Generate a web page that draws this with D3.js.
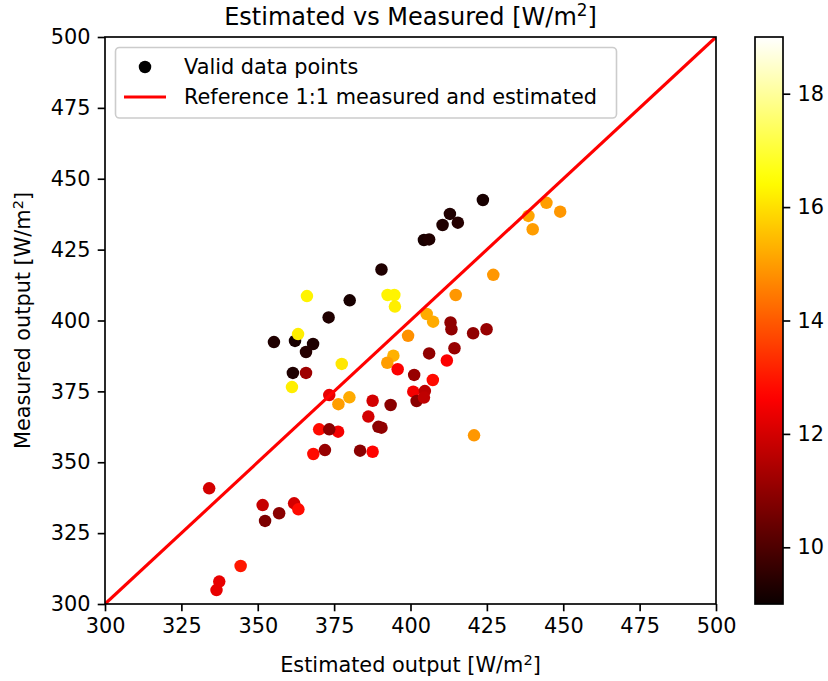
<!DOCTYPE html>
<html>
<head>
<meta charset="utf-8">
<script src="https://cdn.jsdelivr.net/npm/d3@7"></script>
<style>
body{margin:0;background:#fff;}
svg text{font-family:"DejaVu Sans",sans-serif;fill:#000;}
</style>
</head>
<body>
<svg id="chart" width="828" height="681"></svg>
<script>
//data: estimated, measured, colour value
var estimated=[355.3,362.2,368.1,365.8,361.5,423.7,412.9,410.5,415.5,404.4,406.1,390.5,380.1,373.2,
    366.1,363.2,361.2,392.5,394.7,394.9,377.5,
    427.1,414.8,405.3,407.4,399.2,394.4,392.4,380.0,376.4,420.8,444.5,449.0,438.6,440.0,
    411.9,395.8,407.3,400.9,373.4,387.6,386.2,370.1,376.3,368.2,387.6,334.1,351.6,361.9,363.3,344.4,337.4,336.5,
    365.8,413.1,413.4,420.5,424.9,406.1,414.4,401.2,404.7,402.0,404.4,393.5,389.5,390.5,373.4,372.0,383.5,357.0,352.4];
var measured=[392.4,392.8,391.7,388.9,381.5,442.5,437.6,433.7,434.5,428.4,428.6,418.0,407.1,401.1,
    408.6,395.2,376.5,409.0,409.0,404.9,384.7,
    416.1,409.0,402.3,399.6,394.6,387.6,385.1,372.9,370.5,359.5,441.5,438.4,436.9,432.2,
    385.9,382.8,379.0,374.9,373.7,371.7,366.1,361.6,360.8,352.9,353.7,340.8,334.9,335.5,333.4,313.4,307.9,304.9,
    381.5,399.3,396.9,395.5,396.9,388.4,390.2,380.8,375.1,371.6,372.8,370.2,362.5,362.2,361.6,354.3,354.1,332.0,329.3];
var colorVal=[9.3,9.2,9.3,9.4,9.3,9.2,9.3,9.3,9.4,9.2,9.3,9.3,9.2,9.3,
    16.3,16.2,16.2,16.3,16.3,16.2,16.1,
    14.9,14.9,15.2,15.2,14.8,15.3,15.0,15.2,15.0,14.9,15.0,14.9,15.1,15.0,
    12.6,12.6,12.8,12.5,12.3,12.0,12.0,12.8,12.5,12.8,12.7,12.0,11.8,12.0,12.8,13.0,12.3,12.3,
    11.2,11.0,11.0,11.0,11.1,11.0,11.1,11.1,11.6,10.9,11.7,10.9,10.9,11.0,10.9,11.1,10.9,10.9,10.7];
var axisTicks=[300,325,350,375,400,425,450,475,500];
var cbarTicks=[10,12,14,16,18];
var cMin=9,cMax=19;

var pt=150/72;
var pLeft=105,pRight=716,pTop=37,pBottom=604;
var svg=d3.select("#chart");

//matplotlib 'hot'
var hotR=d3.scaleLinear().domain([0,0.365079,1]).range([0.0416,1,1]).clamp(true);
var hotG=d3.scaleLinear().domain([0,0.365079,0.746032,1]).range([0,0,1,1]).clamp(true);
var hotB=d3.scaleLinear().domain([0,0.746032,1]).range([0,0,1]).clamp(true);
function hot(v){
    var t=(v-cMin)/(cMax-cMin);
    return d3.rgb(hotR(t)*255,hotG(t)*255,hotB(t)*255).toString();
}

var x=d3.scaleLinear().domain([300,500]).range([pLeft,pRight]);
var y=d3.scaleLinear().domain([300,500]).range([pBottom,pTop]);

svg.append("clipPath").attr("id","clip").append("rect")
    .attr("x",pLeft).attr("y",pTop).attr("width",pRight-pLeft).attr("height",pBottom-pTop);

var pts=svg.append("g").attr("clip-path","url(#clip)");
pts.selectAll("circle").data(estimated).enter().append("circle")
    .attr("cx",function(d){return x(d);})
    .attr("cy",function(d,i){return y(measured[i]);})
    .attr("r",3*pt)
    .attr("fill",function(d,i){return hot(colorVal[i]);});

pts.append("line")
    .attr("x1",x(300)).attr("y1",y(300)).attr("x2",x(500)).attr("y2",y(500))
    .attr("stroke","#ff0000").attr("stroke-width",1.5*pt);

function styleAxis(g){
    g.select(".domain").remove();
    g.selectAll(".tick line").attr("stroke","#000").attr("stroke-width",0.8*pt);
    g.selectAll(".tick text").attr("font-size",10*pt).attr("font-family","DejaVu Sans").attr("fill","#000");
}

var xAxis=d3.axisBottom(x).tickValues(axisTicks).tickSize(3.5*pt).tickPadding(3.5*pt);
svg.append("g").attr("transform","translate(0,"+pBottom+")").call(xAxis).call(styleAxis);
var yAxis=d3.axisLeft(y).tickValues(axisTicks).tickSize(3.5*pt).tickPadding(3.5*pt);
svg.append("g").attr("transform","translate("+pLeft+",0)").call(yAxis).call(styleAxis);

svg.append("rect").attr("x",pLeft).attr("y",pTop).attr("width",pRight-pLeft).attr("height",pBottom-pTop)
    .attr("fill","none").attr("stroke","#000").attr("stroke-width",0.8*pt);

//text with a superscript 2
function unitText(g,before,size){
    g.append("tspan").text(before+"[W/m");
    g.append("tspan").attr("dy",-0.36*size).attr("font-size",size*0.7).text("2");
    g.append("tspan").attr("dy",0.36*size).text("]");
}

var title=svg.append("text").attr("x",(pLeft+pRight)/2).attr("y",pTop-12)
    .attr("text-anchor","middle").attr("font-size",24);
unitText(title,"Estimated vs Measured ",24);

var xl=svg.append("text").attr("x",(pLeft+pRight)/2).attr("y",672)
    .attr("text-anchor","middle").attr("font-size",10*pt);
unitText(xl,"Estimated output ",10*pt);

var yl=svg.append("text").attr("transform","translate(30,"+((pTop+pBottom)/2)+") rotate(-90)")
    .attr("text-anchor","middle").attr("font-size",10*pt);
unitText(yl,"Measured output ",10*pt);

//legend
var lg=svg.append("g");
lg.append("rect").attr("x",115.5).attr("y",47.5).attr("width",501).attr("height",70.5)
    .attr("rx",4).attr("fill","#fff").attr("fill-opacity",0.8)
    .attr("stroke","#cccccc").attr("stroke-width",1.6);
lg.append("circle").attr("cx",145).attr("cy",67).attr("r",3*pt).attr("fill","#000");
lg.append("line").attr("x1",124).attr("x2",166).attr("y1",97).attr("y2",97)
    .attr("stroke","#ff0000").attr("stroke-width",1.5*pt);
lg.append("text").attr("x",184).attr("y",74).attr("font-size",10*pt).text("Valid data points");
lg.append("text").attr("x",184).attr("y",104).attr("font-size",10*pt).text("Reference 1:1 measured and estimated");

//colorbar
var cbX=755,cbW=28;
var cy=d3.scaleLinear().domain([cMin,cMax]).range([pBottom,pTop]);
var grad=svg.append("defs").append("linearGradient").attr("id","cbar")
    .attr("x1",0).attr("y1",1).attr("x2",0).attr("y2",0);
grad.selectAll("stop").data(d3.range(0,1.0001,0.02)).enter().append("stop")
    .attr("offset",function(d){return d;})
    .attr("stop-color",function(d){return hot(cMin+d*(cMax-cMin));});
svg.append("rect").attr("x",cbX).attr("y",pTop).attr("width",cbW).attr("height",pBottom-pTop)
    .attr("fill","url(#cbar)").attr("stroke","#000").attr("stroke-width",0.8*pt);
var cAxis=d3.axisRight(cy).tickValues(cbarTicks).tickSize(3.5*pt).tickPadding(3.5*pt);
svg.append("g").attr("transform","translate("+(cbX+cbW)+",0)").call(cAxis).call(styleAxis);
</script>
</body>
</html>
